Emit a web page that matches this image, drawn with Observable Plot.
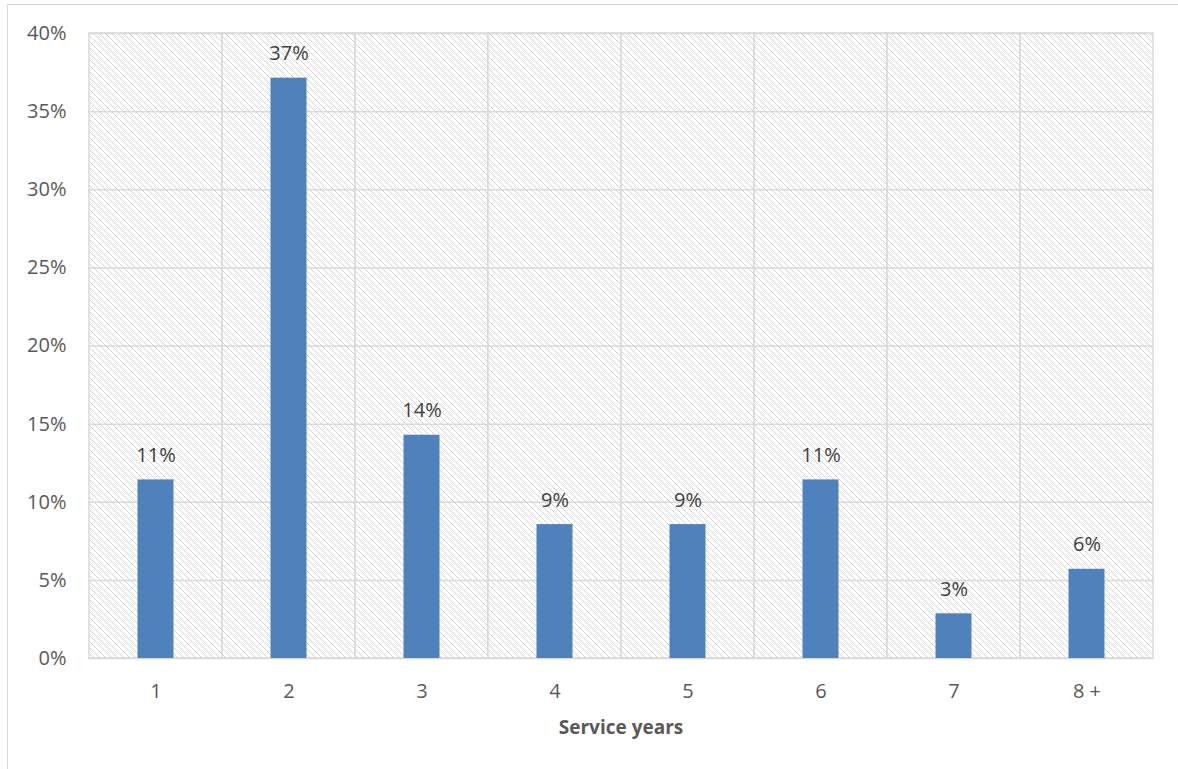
<!DOCTYPE html>
<html>
<head>
<meta charset="utf-8">
<script src="https://cdn.jsdelivr.net/npm/d3@7"></script>
<script src="https://cdn.jsdelivr.net/npm/@observablehq/plot@0.6"></script>
<style>
  body { margin: 0; background: #fff; overflow: hidden; }
  #chart { position: relative; width: 1178px; height: 769px; }
  #frame { position: absolute; left: 7px; top: 4px; width: 1200px; height: 800px;
           border: 1px solid #d9d9d9; pointer-events: none; }
</style>
</head>
<body>
<div id="chart"><div id="frame"></div></div>
<script>
// Share of respondents by years of service (n = 35)
const serviceYears = ["1", "2", "3", "4", "5", "6", "7", "8 +"];
const shares = [11.43, 37.14, 14.29, 8.57, 8.57, 11.43, 2.86, 5.71];
const yTicks = [0, 5, 10, 15, 20, 25, 30, 35, 40];
const xTitle = "Service years";

const rows = serviceYears.map((years, i) => ({ years, share: shares[i] }));

// Diagonal hatch used for the plot background
const hatchDefs = () => {
  const defs = d3.create("svg:defs");
  const p = defs.append("pattern")
    .attr("id", "hatch")
    .attr("patternUnits", "userSpaceOnUse")
    .attr("width", 6).attr("height", 6);
  p.append("rect").attr("width", 6).attr("height", 6).attr("fill", "#fff");
  p.append("path")
    .attr("d", "M-1,-1L7,7M5,-1L7,1M-1,5L1,7")
    .attr("stroke", "#d2d2d2").attr("stroke-width", 1);
  return defs.node();
};

const chart = Plot.plot({
  width: 1178,
  height: 769,
  marginLeft: 88,
  marginRight: 25,
  marginTop: 33,
  marginBottom: 111,
  style: { fontFamily: "'Open Sans', sans-serif", fontSize: "20px", color: "#595959", background: "transparent" },
  x: { domain: serviceYears, padding: 0, label: null },
  y: { domain: [0, 40], label: null },
  marks: [
    hatchDefs,
    Plot.cell(serviceYears, { x: d => d, fill: "url(#hatch)", stroke: "#d9d9d9", strokeWidth: 1.5 }),
    Plot.ruleY(yTicks, { stroke: "#d9d9d9", strokeWidth: 1.5 }),
    Plot.barY(rows, { x: "years", y: "share", fill: "#4f81bd", insetLeft: 48.5, insetRight: 48.5 }),
    Plot.text(rows, {
      x: "years", y: "share",
      text: d => Math.round(d.share) + "%",
      lineAnchor: "bottom", dy: -18, fill: "#404040", fontSize: 20
    }),
    Plot.axisY(yTicks, { tickSize: 0, tickPadding: 22, tickFormat: d => d + "%", fontSize: 20, label: null }),
    Plot.axisX({ tickSize: 0, tickPadding: 25, fontSize: 20, label: null }),
    Plot.text([xTitle], {
      frameAnchor: "bottom", lineAnchor: "bottom", dy: 75,
      fontWeight: "bold", fontSize: 19, fill: "#595959"
    })
  ]
});

document.getElementById("chart").prepend(chart);
</script>
</body>
</html>
